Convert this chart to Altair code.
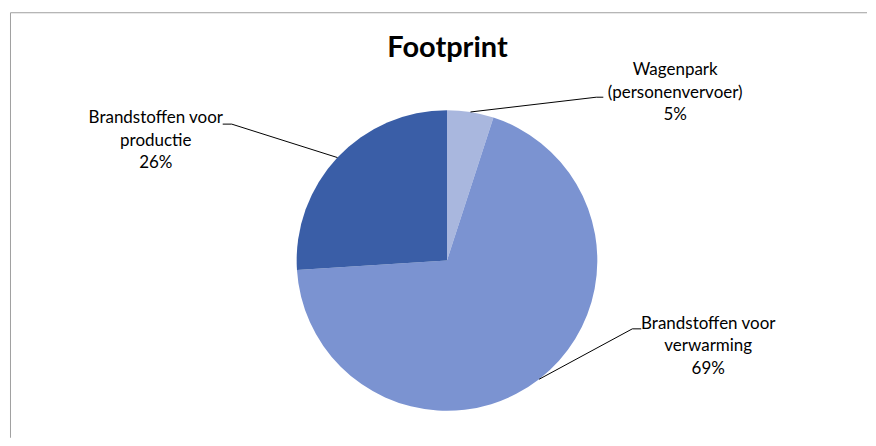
import math
import altair as alt
import pandas as pd

# ---- data ----
categories = ["Wagenpark (personenvervoer)", "Brandstoffen voor verwarming", "Brandstoffen voor productie"]
label_lines = [["Wagenpark", "(personenvervoer)"], ["Brandstoffen voor", "verwarming"], ["Brandstoffen voor", "productie"]]
shares = [5, 69, 26]
colors = ["#A9B7DE", "#7B93D1", "#3A5EA7"]
title_text = "Footprint"

# ---- layout (pie units: 1 = pie radius); label y = first text line ----
label_pos = [(1.518, 1.266), (1.738, -0.422), (-1.937, 0.947)]
elbow_pos = [(0.993, 1.086), (1.233, -0.455), (-1.432, 0.907)]
stub_pos = [(1.040, 1.086), (1.292, -0.455), (-1.492, 0.907)]

W, H = 860, 430
R_PX = 150.5
CX, CY = 439.5, 252.5
xs = alt.Scale(domain=[-CX / R_PX, (W - CX) / R_PX], nice=False, zero=False)
ys = alt.Scale(domain=[-(H - CY) / R_PX, CY / R_PX], nice=False, zero=False)
FONT = "Lato"

pie_df = pd.DataFrame({"category": categories, "share": shares, "order": list(range(len(shares)))})

total = sum(shares)
cum = 0
line_rows, label_rows = [], []
for i, (c, v) in enumerate(zip(categories, shares)):
    mid = (cum + v / 2) / total
    cum += v
    a = 2 * math.pi * mid
    pts = [(math.sin(a), math.cos(a)), elbow_pos[i], stub_pos[i]]
    for k, (px, py) in enumerate(pts):
        line_rows.append({"category": c, "k": k, "lx": px, "ly": py})
    label_rows.append({"category": c, "lx": label_pos[i][0], "ly": label_pos[i][1],
                       "label": "\n".join(label_lines[i] + [f"{v}%"])})
line_df = pd.DataFrame(line_rows)
label_df = pd.DataFrame(label_rows)

pie = alt.Chart(pie_df).mark_arc(outerRadius=R_PX).encode(
    theta=alt.Theta("share:Q", stack=True),
    order=alt.Order("order:Q"),
    color=alt.Color("category:N", scale=alt.Scale(domain=categories, range=colors), legend=None),
    x=alt.X(datum=0, scale=xs, axis=None),
    y=alt.Y(datum=0, scale=ys, axis=None),
)

leaders = alt.Chart(line_df).mark_line(color="#000000", strokeWidth=1).encode(
    x=alt.X("lx:Q", scale=xs, axis=None),
    y=alt.Y("ly:Q", scale=ys, axis=None),
    detail="category:N",
    order="k:Q",
)

labels = alt.Chart(label_df).mark_text(
    font=FONT, fontSize=17, lineBreak="\n", lineHeight=22.5, align="center", baseline="middle", color="#000000"
).encode(
    x=alt.X("lx:Q", scale=xs, axis=None),
    y=alt.Y("ly:Q", scale=ys, axis=None),
    text="label:N",
)

title = alt.Chart(pd.DataFrame({"t": [title_text]})).mark_text(
    font=FONT, fontSize=29, fontWeight="bold", align="center", baseline="alphabetic", color="#000000"
).encode(x=alt.value(440), y=alt.value(49), text="t:N")

frame_v = alt.Chart(pd.DataFrame({"a": [0]})).mark_rule(color="#A0A0A0", strokeWidth=1).encode(
    x=alt.value(2.5), y=alt.value(4.5), y2=alt.value(H)
)
frame_h = alt.Chart(pd.DataFrame({"a": [0]})).mark_rule(color="#A0A0A0", strokeWidth=1).encode(
    x=alt.value(2.5), x2=alt.value(W), y=alt.value(4.5)
)

chart = alt.layer(frame_v, frame_h, pie, leaders, labels, title).properties(
    width=W, height=H, padding=0, background="#FFFFFF"
).configure_view(stroke="transparent")

chart.save("out.html", embed_options={"renderer": "svg", "actions": False})
